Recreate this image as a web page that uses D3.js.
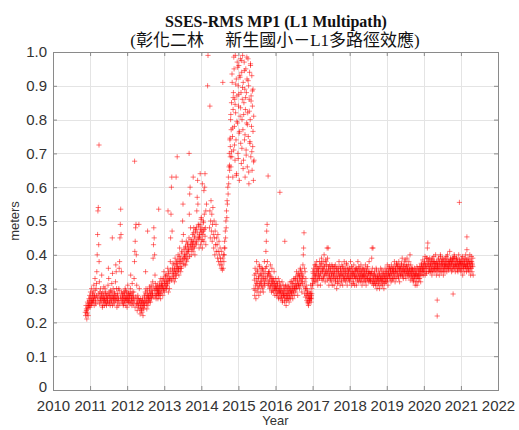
<!DOCTYPE html>
<html><head><meta charset="utf-8">
<script src="https://cdn.jsdelivr.net/npm/d3@7"></script>
<style>body{margin:0;background:#fff}</style>
</head><body>
<svg id="c" width="519" height="430"></svg>
<script>
// ---------- data ----------
const titleLine1 = "SSES-RMS MP1 (L1 Multipath)";
const titleLine2 = "(彰化二林\u3000 新生國小－L1多路徑效應)";
const xLabel = "Year";
const yLabel = "meters";
const xTicks = [2010,2011,2012,2013,2014,2015,2016,2017,2018,2019,2020,2021,2022];
const yTicks = [0,0.1,0.2,0.3,0.4,0.5,0.6,0.7,0.8,0.9,1.0];

// daily-ish samples, spread evenly over each segment's span
const spanA = [2010.87, 2012.85];
const valuesA = [
0.23,0.22,0.25,0.24,0.21,0.23,0.26,0.24,0.22,0.25,
0.27,0.25,0.28,0.26,0.29,0.25,0.27,0.30,0.26,0.28,
0.26,0.29,0.27,0.31,0.25,0.28,0.33,0.27,0.26,0.30,
0.28,0.35,0.40,0.46,0.53,0.54,0.43,0.38,0.32,0.29,
0.27,0.30,0.26,0.28,0.34,0.27,0.25,0.29,0.27,0.26,
0.28,0.25,0.27,0.30,0.26,0.29,0.27,0.25,0.28,0.26,
0.27,0.31,0.36,0.33,0.28,0.26,0.29,0.25,0.27,0.28,
0.26,0.29,0.27,0.25,0.28,0.30,0.27,0.26,0.29,0.27,
0.28,0.32,0.37,0.35,0.30,0.27,0.26,0.28,0.25,0.27,
0.30,0.36,0.38,0.45,0.49,0.535,0.46,0.35,0.29,0.27,
0.26,0.28,0.25,0.27,0.29,0.26,0.28,0.30,0.27,0.25,
0.27,0.29,0.26,0.28,0.31,0.27,0.26,0.29,0.27,0.28,
0.26,0.30,0.34,0.28,0.27,0.25,0.29,0.26,0.28,0.27,
0.29,0.33,0.38,0.41,0.44,0.48,0.49,0.40,0.31,0.27,
0.26,0.28,0.25,0.27,0.49,0.30,0.26,0.24,0.27,0.25,
0.24,0.26,0.23,0.27,0.25,0.22,0.26,0.24,0.28,0.25,
0.26,0.29,0.35,0.30,0.27,0.24,0.26,0.28,0.25,0.27,
0.28,0.26,0.29,0.27,0.30,0.26,0.28,0.31,0.27,0.29,
0.28,0.32,0.39,0.43,0.48,0.45,0.40,0.34,0.30,0.28,
0.27,0.30,0.28,0.31,0.29,0.27,0.30,0.28];
const spanA2 = [2010.90, 2012.84];
const valuesA2 = [
0.235,0.225,0.245,0.255,0.265,0.245,0.275,0.255,0.265,0.285,
0.265,0.275,0.295,0.255,0.315,0.275,0.265,0.285,0.255,0.275,
0.265,0.285,0.245,0.275,0.305,0.265,0.285,0.255,0.275,0.265,
0.285,0.255,0.275,0.295,0.265,0.315,0.345,0.275,0.255,0.285,
0.265,0.275,0.245,0.285,0.265,0.295,0.255,0.275,0.265,0.285,
0.275,0.255,0.285,0.265,0.295,0.275,0.245,0.265,0.285,0.275,
0.255,0.285,0.265,0.315,0.275,0.255,0.265,0.245,0.275,0.255,
0.235,0.255,0.245,0.265,0.225,0.255,0.235,0.265,0.245,0.255,
0.275,0.265,0.285,0.255,0.295,0.275,0.265,0.305,0.285,0.275,
0.295,0.285,0.305,0.275,0.295,0.315,0.285,0.305,0.295,0.285];

const spanB = [2012.85, 2014.12];
const valuesB = [
0.29,0.31,0.28,0.32,0.30,0.27,0.33,0.29,0.31,0.30,
0.31,0.28,0.33,0.30,0.35,0.29,0.32,0.30,0.34,0.31,
0.32,0.30,0.34,0.31,0.36,0.33,0.29,0.35,0.32,0.30,
0.33,0.38,0.45,0.52,0.60,0.63,0.47,0.36,0.33,0.35,
0.34,0.37,0.32,0.36,0.39,0.33,0.35,0.38,0.34,0.36,
0.37,0.35,0.40,0.36,0.34,0.38,0.42,0.36,0.39,0.35,
0.38,0.36,0.41,0.44,0.50,0.55,0.46,0.39,0.37,0.40,
0.39,0.42,0.37,0.40,0.44,0.38,0.41,0.43,0.39,0.42,
0.41,0.45,0.52,0.58,0.60,0.48,0.43,0.40,0.44,0.42,
0.43,0.46,0.41,0.44,0.48,0.42,0.45,0.40,0.47,0.43,
0.44,0.48,0.53,0.57,0.62,0.55,0.49,0.45,0.42,0.46,
0.45,0.49,0.43,0.47,0.51,0.44,0.48,0.42,0.46,0.50,
0.47,0.44,0.52,0.60,0.64,0.48,0.43];
const spanB2 = [2012.86, 2014.10];
const valuesB2 = [
0.295,0.305,0.285,0.315,0.305,0.325,0.295,0.315,0.335,0.305,
0.325,0.315,0.345,0.325,0.335,0.355,0.325,0.345,0.375,0.335,
0.355,0.345,0.375,0.365,0.385,0.355,0.395,0.375,0.365,0.405,
0.385,0.375,0.415,0.395,0.425,0.385,0.405,0.435,0.415,0.395,
0.425,0.445,0.415,0.435,0.465,0.425,0.455,0.475,0.435,0.465,
0.445,0.485,0.455,0.475,0.505,0.465,0.445,0.495,0.475,0.455];

const spanC = [2014.22, 2014.62];
const valuesC = [
0.48,0.53,0.45,0.50,0.56,0.47,0.52,0.44,0.49,0.54,
0.46,0.42,0.50,0.45,0.40,0.47,0.43,0.49,0.41,0.45,
0.43,0.39,0.46,0.41,0.38,0.44,0.40,0.37,0.42,0.39,
0.38,0.36,0.41,0.37,0.355,0.39,0.36,0.40,0.38,0.42];

const spanD = [2014.62, 2014.78];
const valuesD = [
0.40,0.44,0.42,0.47,0.45,0.50,0.48,0.53,0.51,0.56,
0.55,0.60,0.58,0.63,0.61,0.66,0.70,0.65,0.74,0.69];

const spanE = [2014.78, 2015.42];
const valuesE = [
0.72,0.80,0.66,0.77,0.85,0.69,0.91,0.75,0.63,0.83,0.88,0.71,
0.95,0.78,0.86,0.68,0.99,0.82,0.74,0.92,0.64,0.87,0.97,0.79,0.70,0.90,
0.84,0.96,0.76,0.62,0.93,0.81,0.98,0.73,0.88,0.67,0.94,0.80,0.86,0.99,
0.77,0.91,0.68,0.85,0.97,0.74,0.89,0.63,0.83,0.95,0.71,0.88,0.79,0.92,
0.66,0.82,0.98,0.75,0.90,0.61,0.86,0.94,0.73,0.80,0.96,0.69,
0.87,0.78,0.93,0.65,0.84,0.72,0.89,0.62,0.81,0.68];
const spanE2 = [2014.76, 2015.41];
const valuesE2 = [
0.665,0.745,0.815,0.705,0.935,0.775,0.865,0.985,0.725,0.845,
0.905,0.635,0.795,0.955,0.685,0.875,0.765,0.925,0.835,0.975,
0.715,0.895,0.655,0.815,0.945,0.755,0.865,0.695,0.985,0.785,
0.915,0.645,0.825,0.735,0.965,0.855,0.705,0.885,0.765,0.675];

const spanF = [2015.42, 2016.97];
const valuesF = [
0.30,0.34,0.28,0.36,0.31,0.27,0.33,0.38,0.29,0.32,
0.35,0.30,0.33,0.28,0.37,0.31,0.34,0.29,0.32,0.36,
0.31,0.34,0.30,0.36,0.33,0.29,0.35,0.32,0.38,0.31,
0.33,0.36,0.41,0.44,0.47,0.49,0.38,0.34,0.31,0.35,
0.32,0.35,0.30,0.34,0.37,0.31,0.33,0.29,0.36,0.32,
0.31,0.33,0.29,0.32,0.35,0.30,0.28,0.33,0.31,0.30,
0.30,0.32,0.28,0.31,0.29,0.33,0.27,0.30,0.32,0.29,
0.29,0.31,0.27,0.30,0.28,0.32,0.26,0.29,0.31,0.28,
0.28,0.30,0.26,0.29,0.27,0.31,0.25,0.28,0.30,0.27,
0.28,0.31,0.27,0.29,0.26,0.30,0.28,0.32,0.27,0.29,
0.29,0.32,0.28,0.30,0.27,0.31,0.29,0.33,0.28,0.30,
0.30,0.33,0.29,0.31,0.35,0.30,0.32,0.28,0.34,0.31,
0.31,0.34,0.30,0.33,0.36,0.31,0.35,0.32,0.29,0.34,
0.33,0.37,0.40,0.42,0.465,0.36,0.32,0.35,0.30,0.33,
0.31,0.28,0.30,0.26,0.29,0.27,0.25,0.28,0.26,0.27,
0.29,0.27,0.31,0.26,0.28];
const spanF2 = [2015.43, 2016.96];
const valuesF2 = [
0.325,0.295,0.345,0.315,0.355,0.305,0.335,0.365,0.315,0.345,
0.325,0.355,0.305,0.335,0.315,0.345,0.325,0.365,0.335,0.315,
0.345,0.325,0.305,0.335,0.315,0.295,0.325,0.305,0.315,0.295,
0.305,0.285,0.315,0.295,0.275,0.305,0.285,0.295,0.275,0.265,
0.285,0.295,0.275,0.305,0.285,0.265,0.295,0.285,0.305,0.275,
0.295,0.305,0.285,0.315,0.295,0.325,0.305,0.315,0.335,0.305,
0.325,0.345,0.315,0.335,0.355,0.325,0.345,0.315,0.335,0.305,
0.285,0.275,0.295,0.265,0.285,0.255,0.275,0.265,0.285,0.275];

const spanG = [2016.97, 2021.33];
const valuesG = [
0.27,0.30,0.33,0.31,0.35,0.33,0.36,0.32,0.34,0.37,
0.34,0.37,0.32,0.35,0.38,0.33,0.36,0.31,0.35,0.34,
0.36,0.33,0.38,0.34,0.31,0.37,0.35,0.39,0.33,0.36,
0.35,0.38,0.33,0.36,0.40,0.34,0.37,0.32,0.35,0.38,
0.34,0.37,0.42,0.39,0.35,0.33,0.36,0.31,0.34,0.37,
0.35,0.33,0.36,0.32,0.34,0.37,0.31,0.35,0.33,0.36,
0.34,0.31,0.35,0.33,0.37,0.32,0.34,0.36,0.30,0.35,
0.33,0.36,0.32,0.35,0.38,0.33,0.34,0.31,0.36,0.34,
0.35,0.32,0.37,0.34,0.31,0.36,0.33,0.35,0.38,0.33,
0.34,0.36,0.32,0.35,0.33,0.37,0.31,0.34,0.36,0.33,
0.35,0.33,0.36,0.32,0.34,0.38,0.33,0.35,0.31,0.34,
0.36,0.33,0.35,0.32,0.37,0.34,0.31,0.35,0.33,0.36,
0.34,0.31,0.36,0.33,0.35,0.38,0.32,0.34,0.36,0.33,
0.35,0.32,0.34,0.37,0.33,0.35,0.31,0.36,0.34,0.32,
0.34,0.36,0.33,0.35,0.32,0.37,0.34,0.31,0.35,0.33,
0.36,0.33,0.34,0.32,0.35,0.38,0.33,0.35,0.32,0.34,
0.33,0.35,0.39,0.42,0.36,0.32,0.34,0.31,0.33,0.35,
0.32,0.34,0.31,0.33,0.36,0.32,0.30,0.34,0.33,0.31,
0.33,0.35,0.32,0.30,0.34,0.33,0.36,0.31,0.33,0.32,
0.34,0.31,0.33,0.35,0.32,0.30,0.34,0.33,0.36,0.32,
0.33,0.35,0.32,0.34,0.37,0.33,0.31,0.35,0.34,0.36,
0.34,0.36,0.33,0.35,0.32,0.37,0.34,0.36,0.33,0.35,
0.36,0.33,0.35,0.38,0.34,0.32,0.36,0.35,0.33,0.37,
0.35,0.37,0.34,0.36,0.33,0.38,0.35,0.32,0.36,0.34,
0.36,0.34,0.37,0.35,0.39,0.34,0.36,0.33,0.35,0.37,
0.35,0.38,0.34,0.36,0.33,0.37,0.35,0.39,0.34,0.36,
0.37,0.35,0.38,0.34,0.36,0.40,0.35,0.37,0.34,0.36,
0.35,0.33,0.36,0.34,0.32,0.35,0.33,0.36,0.34,0.31,
0.34,0.32,0.35,0.33,0.31,0.34,0.36,0.32,0.34,0.33,
0.35,0.33,0.36,0.34,0.32,0.35,0.37,0.34,0.36,0.35,
0.36,0.34,0.37,0.35,0.38,0.36,0.34,0.37,0.35,0.39,
0.36,0.39,0.42,0.435,0.38,0.35,0.37,0.36,0.39,0.35,
0.37,0.35,0.38,0.36,0.34,0.37,0.39,0.35,0.38,0.36,
0.36,0.38,0.35,0.37,0.40,0.36,0.34,0.38,0.36,0.37,
0.35,0.37,0.39,0.36,0.34,0.38,0.36,0.40,0.35,0.37,
0.38,0.35,0.37,0.39,0.36,0.34,0.38,0.36,0.37,0.35,
0.37,0.39,0.36,0.38,0.35,0.37,0.40,0.36,0.38,0.37,
0.36,0.38,0.41,0.37,0.39,0.36,0.38,0.35,0.37,0.39,
0.38,0.36,0.39,0.37,0.40,0.36,0.38,0.35,0.37,0.39,
0.37,0.39,0.36,0.38,0.35,0.37,0.40,0.36,0.38,0.37,
0.36,0.38,0.35,0.37,0.39,0.36,0.38,0.34,0.37,0.36,
0.38,0.35,0.37,0.39,0.36,0.40,0.37,0.35,0.38,0.36,
0.37,0.39,0.36,0.38,0.35,0.37,0.40,0.36,0.34,0.38,
0.36,0.38,0.35,0.37,0.39,0.34];
const spanG2 = [2016.98, 2021.32];
const valuesG2 = [
0.285,0.315,0.345,0.325,0.355,0.335,0.365,0.345,0.325,0.355,
0.335,0.365,0.345,0.375,0.325,0.355,0.335,0.365,0.345,0.385,
0.355,0.325,0.345,0.365,0.335,0.355,0.325,0.345,0.365,0.335,
0.345,0.365,0.325,0.355,0.335,0.315,0.345,0.365,0.335,0.355,
0.325,0.345,0.365,0.335,0.355,0.325,0.345,0.375,0.335,0.355,
0.345,0.325,0.355,0.335,0.365,0.345,0.315,0.345,0.335,0.355,
0.335,0.355,0.325,0.345,0.365,0.335,0.355,0.325,0.345,0.335,
0.355,0.335,0.345,0.325,0.355,0.335,0.365,0.345,0.325,0.345,
0.325,0.345,0.315,0.335,0.325,0.345,0.315,0.335,0.355,0.325,
0.335,0.315,0.345,0.325,0.335,0.355,0.325,0.345,0.335,0.315,
0.345,0.335,0.355,0.325,0.345,0.365,0.335,0.355,0.345,0.325,
0.355,0.345,0.365,0.335,0.355,0.375,0.345,0.365,0.335,0.355,
0.365,0.345,0.375,0.355,0.335,0.365,0.355,0.385,0.345,0.365,
0.355,0.345,0.335,0.355,0.325,0.345,0.335,0.355,0.325,0.345,
0.335,0.355,0.345,0.365,0.335,0.355,0.345,0.365,0.355,0.375,
0.365,0.385,0.355,0.375,0.395,0.365,0.345,0.375,0.365,0.385,
0.355,0.375,0.365,0.385,0.355,0.375,0.395,0.365,0.375,0.355,
0.375,0.365,0.385,0.355,0.375,0.395,0.365,0.385,0.375,0.355,
0.385,0.365,0.375,0.395,0.365,0.385,0.355,0.375,0.365,0.385,
0.375,0.355,0.385,0.365,0.395,0.375,0.365,0.385,0.355,0.375,
0.365,0.385,0.375,0.355,0.375,0.395,0.365,0.385,0.375,0.365,
0.385,0.365,0.375,0.355,0.385,0.375,0.365,0.395,0.375,0.365];

// isolated points [year, value]
const outliers = [
[2011.24,0.725],[2012.20,0.677],[2012.85,0.535],[2013.35,0.69],[2013.67,0.70],
[2013.32,0.63],[2013.78,0.63],[2013.97,0.64],[2014.03,0.61],[2014.07,0.59],
[2014.18,0.99],[2014.17,0.90],[2014.23,0.84],[2014.58,0.91],[2014.14,0.55],
[2014.12,0.53],[2015.80,0.633],[2016.12,0.585],[2016.25,0.44],[2017.42,0.42],
[2020.36,0.266],[2020.36,0.219],[2020.79,0.284],[2020.96,0.555],[2021.16,0.453],
[2021.16,0.415],[2018.63,0.42],[2013.10,0.53],[2012.55,0.47],[2011.60,0.45]];

// ---------- drawing ----------
const svg = d3.select("#c");
const x = d3.scaleLinear().domain([2010, 2022]).range([53, 498]);
const y = d3.scaleLinear().domain([0, 1]).range([390, 52]);

const segments = [
  [spanA, valuesA],[spanA2, valuesA2],[spanB, valuesB],[spanB2, valuesB2],
  [spanC, valuesC],[spanD, valuesD],[spanE, valuesE],[spanE2, valuesE2],
  [spanF, valuesF],[spanF2, valuesF2],[spanG, valuesG],[spanG2, valuesG2]];
const points = [];
segments.forEach(([span, vals]) => {
  const n = vals.length;
  vals.forEach((v, i) => points.push([span[0] + (span[1] - span[0]) * i / (n - 1), v]));
});
outliers.forEach(p => points.push(p));

// grid
const grid = svg.append("g").attr("stroke", "#e4e4e4").attr("stroke-width", 1);
xTicks.slice(1, -1).forEach(t => grid.append("line")
  .attr("x1", Math.round(x(t)) + 0.5).attr("x2", Math.round(x(t)) + 0.5)
  .attr("y1", y(1)).attr("y2", y(0)));
yTicks.slice(1, -1).forEach(t => grid.append("line")
  .attr("y1", Math.round(y(t)) + 0.5).attr("y2", Math.round(y(t)) + 0.5)
  .attr("x1", x(2010)).attr("x2", x(2022)));

// markers
svg.append("clipPath").attr("id", "clip").append("rect")
  .attr("x", x(2010)).attr("y", y(1)).attr("width", x(2022) - x(2010)).attr("height", y(0) - y(1));
const s = 2.6;
let d = "";
points.forEach(([t, v]) => {
  const px = x(t), py = y(v);
  d += `M${(px - s).toFixed(1)},${py.toFixed(1)}h${2*s}M${px.toFixed(1)},${(py - s).toFixed(1)}v${2*s}`;
});
svg.append("path").attr("d", d).attr("clip-path", "url(#clip)")
  .attr("fill", "none").attr("stroke", "#ff0000").attr("stroke-width", 0.9).attr("stroke-opacity", 0.6);

// axes
const axisColor = "#8a8a8a";
const labelFont = "Liberation Sans, Arial, sans-serif";
function styleAxis(g) {
  g.select(".domain").remove();
  g.selectAll(".tick line").attr("stroke", axisColor);
  g.selectAll(".tick text").attr("fill", "#333").style("font-family", labelFont).style("font-size", "15px");
}
svg.append("g").attr("transform", `translate(0,${y(0)})`)
  .call(d3.axisBottom(x).tickValues(xTicks).tickFormat(d3.format("d")).tickSizeInner(-4).tickSizeOuter(0).tickPadding(10))
  .call(styleAxis);
const yAxisG = svg.append("g").attr("transform", `translate(${x(2010)},0)`)
  .call(d3.axisLeft(y).tickValues(yTicks).tickFormat(v => v === 0 ? "0" : v.toFixed(1)).tickSizeInner(-4).tickSizeOuter(0).tickPadding(6))
  .call(styleAxis);
// lift the "0" label a little so it clears the year labels beneath it
yAxisG.selectAll(".tick").filter(v => v === 0).select("text").attr("y", -3);
svg.append("g").attr("transform", `translate(0,${y(1)})`)
  .call(d3.axisTop(x).tickValues(xTicks).tickFormat("").tickSizeInner(-4).tickSizeOuter(0))
  .call(styleAxis);
svg.append("g").attr("transform", `translate(${x(2022)},0)`)
  .call(d3.axisRight(y).tickValues(yTicks).tickFormat("").tickSizeInner(-4).tickSizeOuter(0))
  .call(styleAxis);

// box
svg.append("rect").attr("x", x(2010) + 0.5).attr("y", y(1) + 0.5)
  .attr("width", x(2022) - x(2010)).attr("height", y(0) - y(1))
  .attr("fill", "none").attr("stroke", axisColor).attr("stroke-width", 1);

// labels
svg.append("text").attr("x", (x(2010) + x(2022)) / 2).attr("y", 425).attr("text-anchor", "middle")
  .style("font-family", labelFont).style("font-size", "13px").attr("fill", "#333").text(xLabel);
svg.append("text").attr("transform", `translate(19,${(y(0) + y(1)) / 2}) rotate(-90)`).attr("text-anchor", "middle")
  .style("font-family", labelFont).style("font-size", "13px").attr("fill", "#333").text(yLabel);

// titles
svg.append("text").attr("x", 276).attr("y", 27).attr("text-anchor", "middle")
  .style("font-family", "Liberation Serif, Times New Roman, serif").style("font-weight", "bold").style("font-size", "16px")
  .attr("fill", "#111").text(titleLine1);
svg.append("text").attr("x", 275).attr("y", 46).attr("text-anchor", "middle")
  .style("font-family", "Liberation Serif, 'Noto Sans CJK TC', serif").style("font-size", "17px")
  .attr("fill", "#111").text(titleLine2);
</script>
</body></html>
